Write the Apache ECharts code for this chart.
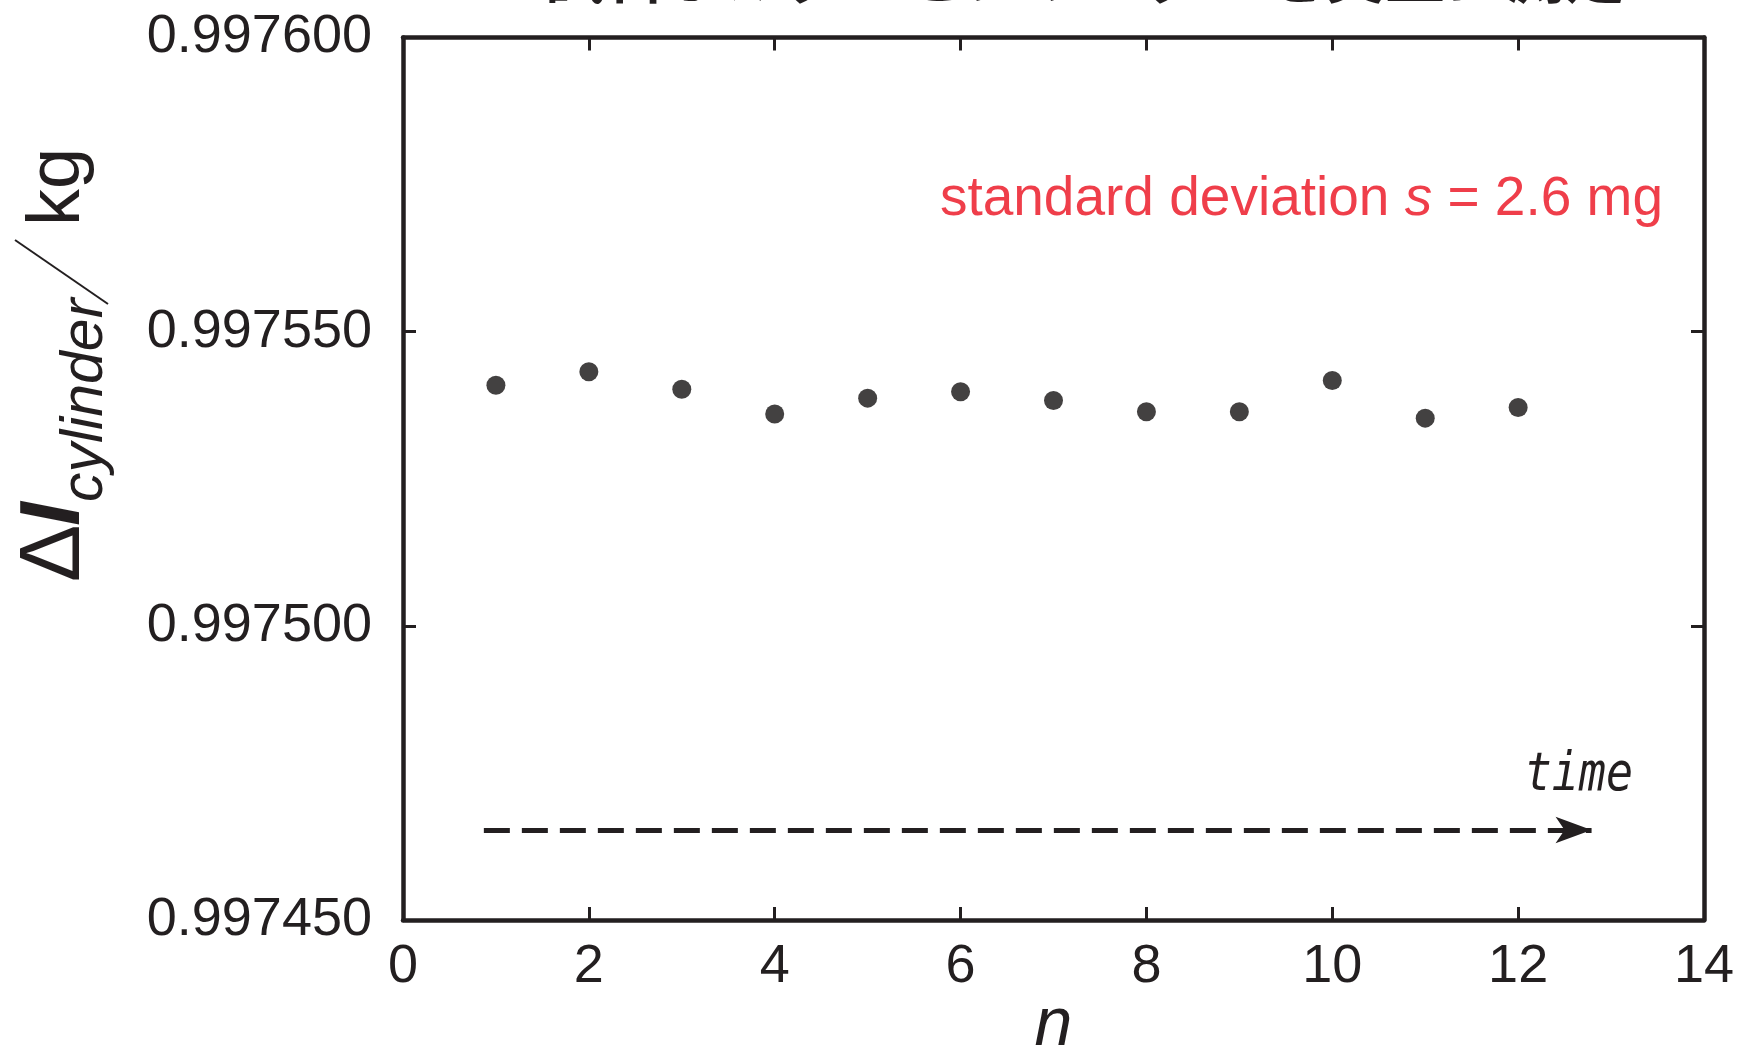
<!DOCTYPE html>
<html>
<head>
<meta charset="utf-8">
<script src="https://cdn.jsdelivr.net/npm/echarts@6/dist/echarts.min.js"></script>
<style>
  html, body { margin: 0; padding: 0; background: #fff; }
  #chart { width: 1744px; height: 1045px; }
</style>
</head>
<body>
<div id="chart"></div>
<script>
// measurement number n and cylinder mass in kg
var nValues = [1, 2, 3, 4, 5, 6, 7, 8, 9, 10, 11, 12];
var massValues = [0.9975409, 0.9975432, 0.9975402, 0.9975360, 0.9975387, 0.9975398,
                  0.9975383, 0.9975364, 0.9975364, 0.9975417, 0.9975353, 0.9975371];
// dashed "time" arrow, in data units
var arrowX = [0.87, 12.79];
var arrowY = 0.9974653;

var ink = '#231f20';
var font = 'Liberation Sans';

var points = nValues.map(function (n, i) { return [n, massValues[i]]; });

var chart = echarts.init(document.getElementById('chart'));

function tick() {
    return { show: true, inside: true, length: 13, lineStyle: { color: ink, width: 3 } };
}
function axisLine() {
    return { show: true, onZero: false, lineStyle: { color: ink, width: 4.5 } };
}

var option = {
    animation: false,
    backgroundColor: '#fff',
    grid: { left: 403, right: 40, top: 37.5, bottom: 125, outerBoundsMode: 'none', containLabel: false },
    xAxis: [
        {
            type: 'value', min: 0, max: 14, interval: 2,
            axisLine: axisLine(), axisTick: tick(), splitLine: { show: false },
            axisLabel: { color: ink, fontSize: 54, fontFamily: font, margin: 20 },
            name: 'n', nameLocation: 'middle', nameGap: 72, nameMoveOverlap: false,
            nameTextStyle: { color: ink, fontSize: 68, fontStyle: 'italic', fontFamily: font }
        },
        {
            type: 'value', position: 'top', min: 0, max: 14, interval: 2,
            axisLine: axisLine(), axisTick: tick(), splitLine: { show: false },
            axisLabel: { show: false }
        }
    ],
    yAxis: [
        {
            type: 'value', min: 0.99745, max: 0.9976, interval: 0.00005,
            axisLine: axisLine(), axisTick: tick(), splitLine: { show: false },
            axisLabel: {
                color: ink, fontSize: 54, fontFamily: font, margin: 31,
                formatter: function (v) { return v.toFixed(6); }
            }
        },
        {
            type: 'value', position: 'right', min: 0.99745, max: 0.9976, interval: 0.00005,
            axisLine: axisLine(), axisTick: tick(), splitLine: { show: false },
            axisLabel: { show: false }
        }
    ],
    series: [
        {
            type: 'scatter',
            data: points,
            symbol: 'circle',
            symbolSize: 19,
            itemStyle: { color: '#141112' },
            silent: true,
            markLine: {
                silent: true,
                animation: false,
                label: { show: false },
                lineStyle: { color: ink, width: 5, type: [26, 12] },
                data: [[
                    { coord: [arrowX[0], arrowY], symbol: 'none' },
                    { coord: [arrowX[1], arrowY], symbol: 'arrow', symbolSize: [20, 36] }
                ]]
            }
        }
    ],
    graphic: [
        // title, cut off at the top of the picture
        {
            type: 'text', x: 1085, y: -25,
            style: {
                text: '試料ホルダーとシリンダーを交互に測定',
                align: 'center', verticalAlign: 'middle',
                fill: ink, fontSize: 60, fontWeight: 'bold', fontFamily: 'Noto Sans CJK JP'
            }
        },
        {
            type: 'text', x: 1663, y: 200,
            style: {
                text: '{n|standard deviation }{i|s}{n| = 2.6 mg}',
                align: 'right', verticalAlign: 'middle',
                rich: {
                    n: { fill: '#ef3e4a', fontSize: 55, fontFamily: font },
                    i: { fill: '#ef3e4a', fontSize: 55, fontFamily: font, fontStyle: 'italic' }
                }
            }
        },
        {
            type: 'text', x: 1633, y: 776, scaleY: 1.2,
            style: {
                text: 'time', align: 'right', verticalAlign: 'middle',
                fill: ink, fontSize: 45, fontStyle: 'italic', fontFamily: 'DejaVu Sans Mono'
            }
        },
        // y axis title, rotated
        {
            type: 'text', x: 55, y: 582, rotation: Math.PI / 2,
            style: { text: 'Δ', align: 'left', verticalAlign: 'middle', fill: ink, fontSize: 86, fontFamily: font }
        },
        {
            type: 'text', x: 55, y: 526, rotation: Math.PI / 2,
            style: { text: 'I', align: 'left', verticalAlign: 'middle', fill: ink, fontSize: 86, fontStyle: 'italic', fontWeight: 'bold', fontFamily: font }
        },
        {
            type: 'text', x: 86, y: 502, rotation: Math.PI / 2,
            style: { text: 'cylinder', align: 'left', verticalAlign: 'middle', fill: ink, fontSize: 59, fontStyle: 'italic', fontFamily: font }
        },
        {
            type: 'line',
            shape: { x1: 15, y1: 240, x2: 108, y2: 304 },
            style: { stroke: ink, lineWidth: 2 }
        },
        {
            type: 'text', x: 59, y: 226, rotation: Math.PI / 2,
            style: { text: 'kg', align: 'left', verticalAlign: 'middle', fill: ink, fontSize: 74, fontFamily: font }
        }
    ]
};
chart.setOption(option);
</script>
</body>
</html>
